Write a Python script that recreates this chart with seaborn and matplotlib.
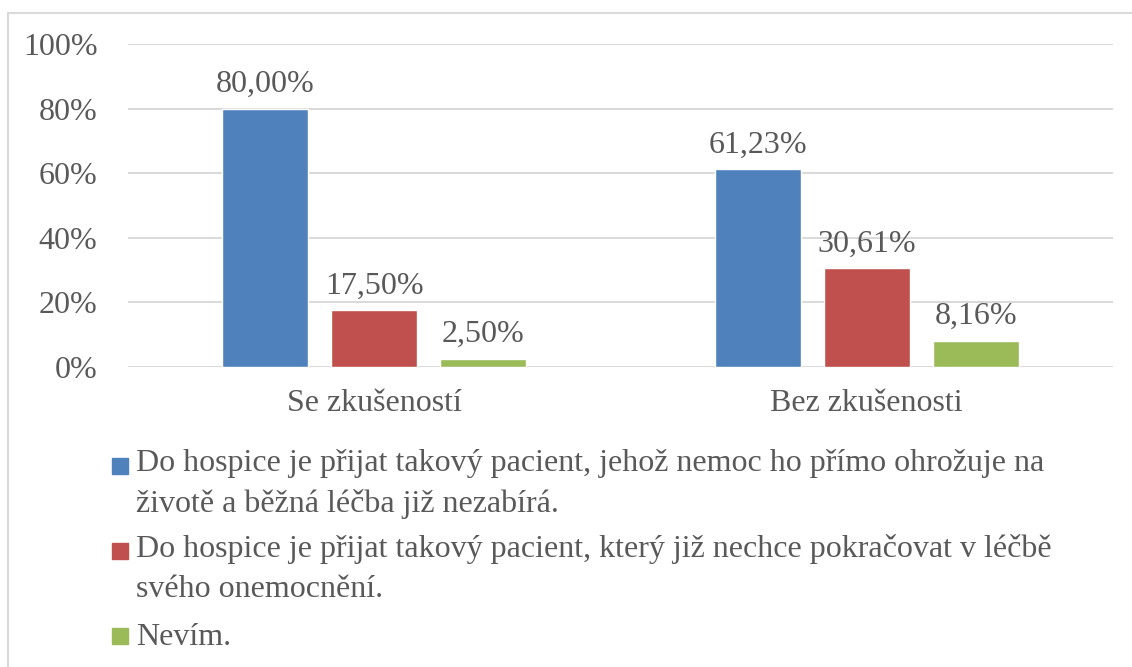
import pandas as pd
import matplotlib.pyplot as plt
import matplotlib.patches as mpatches
import seaborn as sns

# data
skupiny = ["Se zkušeností", "Bez zkušenosti"]
odpovedi = [
    "Do hospice je přijat takový pacient, jehož nemoc ho přímo ohrožuje na\nživotě a běžná léčba již nezabírá.",
    "Do hospice je přijat takový pacient, který již nechce pokračovat v léčbě\nsvého onemocnění.",
    "Nevím.",
]
podil_ohrozeni = [80.00, 61.23]
podil_nechce = [17.50, 30.61]
podil_nevim = [2.50, 8.16]
y_ticks = [0, 20, 40, 60, 80, 100]

barvy = ["#4F81BD", "#C0504D", "#9BBB59"]
sedy_text = "#595959"

rows = []
for odp, vals in zip(odpovedi, [podil_ohrozeni, podil_nechce, podil_nevim]):
    for sk, v in zip(skupiny, vals):
        rows.append({"skupina": sk, "odpoved": odp, "podil": v})
df = pd.DataFrame(rows)

sns.set_theme(style="white")
plt.rcParams["font.family"] = ["Liberation Serif", "DejaVu Serif"]
FS = 23

fig = plt.figure(figsize=(11.32, 6.67), dpi=100)
ax = fig.add_axes([128 / 1132, 1 - 367 / 667, (1113 - 128) / 1132, (367 - 44) / 667])

sns.barplot(data=df, x="skupina", y="podil", hue="odpoved", palette=barvy,
            width=0.663, gap=0.21, legend=False, ax=ax, saturation=1)

for cont in ax.containers:
    ax.bar_label(cont, labels=[f"{v:.2f}".replace(".", ",") + "%" for v in cont.datavalues],
                 padding=7, fontsize=FS, color=sedy_text)

ax.set_ylim(0, 100)
ax.set_yticks(y_ticks)
ax.set_yticklabels([f"{t}%" for t in y_ticks])
ax.set_xlim(-0.5, 1.5)
ax.set_xlabel("")
ax.set_ylabel("")
ax.grid(axis="y", color="#D9D9D9", linewidth=1.4)
ax.set_axisbelow(True)
for s in ax.spines.values():
    s.set_visible(False)
ax.tick_params(axis="y", length=0, pad=22, labelsize=FS, labelcolor=sedy_text)
ax.tick_params(axis="x", length=0, pad=16, labelsize=FS, labelcolor=sedy_text)

# ramecek grafu (vpravo a dole oriznuty)
fig.patches.append(mpatches.Rectangle((8 / 1132, -0.1), 1.2, 1 - 13 / 667 + 0.1,
                                      transform=fig.transFigure, fill=False,
                                      edgecolor="#D9D9D9", linewidth=1.5))

# legenda
leg_y = [475, 560, 645]
for odp, barva, yb in zip(odpovedi, barvy, leg_y):
    n_lines = odp.count("\n")
    fig.patches.append(mpatches.Rectangle((112 / 1132, 1 - (yb - 1) / 667), 16 / 1132, 16 / 667,
                                          transform=fig.transFigure, color=barva))
    fig.text(136 / 1132, 1 - (yb + 37 * n_lines) / 667, odp, fontsize=FS, color=sedy_text,
             va="baseline", ha="left", linespacing=1.5)

fig.savefig("out.png", dpi=100)
